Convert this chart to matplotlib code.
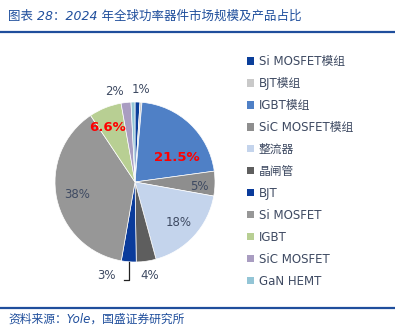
import matplotlib
matplotlib.use("Agg")
import matplotlib.pyplot as plt
import numpy as np

plt.rcParams['font.family'] = ['DejaVu Sans', 'Noto Sans CJK SC']

# data
categories = ['Si MOSFET模组', 'BJT模组', 'IGBT模组', 'SiC MOSFET模组', '整流器', '晶闸管',
              'BJT', 'Si MOSFET', 'IGBT', 'SiC MOSFET', 'GaN HEMT']
shares = [1.0, 0.4, 21.5, 5.0, 18.0, 4.0, 3.0, 38.0, 6.6, 2.0, 0.8]
pct_labels = ['1%', '', '21.5%', '5%', '18%', '4%', '3%', '38%', '6.6%', '2%', '']
highlight = ['21.5%', '6.6%']

colors = ['#0B3F9A', '#C9C9C9', '#4F80C6', '#8E8E8E', '#C4D4EC', '#5E5E5E',
          '#0A3B9B', '#979797', '#B8CF93', '#A99DC1', '#93C5D6']
# label positions in pie units (radius = 1)
label_xy = [(0.07, 1.16), None, (0.52, 0.31), (0.80, -0.05), (0.55, -0.50),
            (0.18, -1.17), (-0.36, -1.17), (-0.72, -0.16), (-0.34, 0.68),
            (-0.26, 1.13), None]

W, H = 395, 336
fig = plt.figure(figsize=(W / 100, H / 100), dpi=100)

blue = '#1F4E9C'
# title and rules
fig.text(8 / W, 1 - 16 / H, '图表 28：2024 年全球功率器件市场规模及产品占比',
         fontsize=9, color=blue, style='italic', va='center', ha='left')
fig.add_artist(plt.Line2D([0, 1], [1 - 32 / H, 1 - 32 / H], color=blue, lw=1.6))
fig.add_artist(plt.Line2D([0, 1], [1 - 308 / H, 1 - 308 / H], color=blue, lw=1.6))
fig.text(8 / W, 1 - 319 / H, '资料来源：Yole，国盛证券研究所',
         fontsize=8.5, color=blue, style='italic', va='center', ha='left')

# pie
cx, cy, r = 135, 182, 80
ax = fig.add_axes([(cx - r) / W, 1 - (cy + r) / H, 2 * r / W, 2 * r / H])
wedges, _ = ax.pie(shares, colors=colors, startangle=90, counterclock=False,
                   wedgeprops=dict(edgecolor='white', linewidth=0.5))
ax.set_xlim(-1, 1)
ax.set_ylim(-1, 1)
ax.set_aspect('equal')
ax.axis('off')

text_color = '#3E4A62'
for lab, xy in zip(pct_labels, label_xy):
    if not lab:
        continue
    if lab in highlight:
        ax.text(xy[0], xy[1], lab, color='#FF0000', fontsize=9.5, fontweight='bold',
                ha='center', va='center', clip_on=False)
    else:
        ax.text(xy[0], xy[1], lab, color=text_color, fontsize=8.5,
                ha='center', va='center', clip_on=False)

# leader line for the 3% slice
w = wedges[categories.index('BJT')]
mid = np.deg2rad((w.theta1 + w.theta2) / 2)
ex, ey = np.cos(mid), np.sin(mid)
ax.plot([ex, ex, ex - 0.06], [ey, -1.22, -1.22], color='#222222', lw=0.9, clip_on=False)

# legend
leg = fig.legend(wedges, categories, loc='upper left', bbox_to_anchor=(247 / W, 1 - 55 / H),
                 frameon=False, fontsize=8.5, handlelength=0.6, handleheight=0.6,
                 handletextpad=0.4, labelspacing=0.76, borderaxespad=0, borderpad=0)
for t in leg.get_texts():
    t.set_color(text_color)
for p in leg.get_patches():
    p.set_edgecolor('none')

fig.savefig('out.png', dpi=100)
